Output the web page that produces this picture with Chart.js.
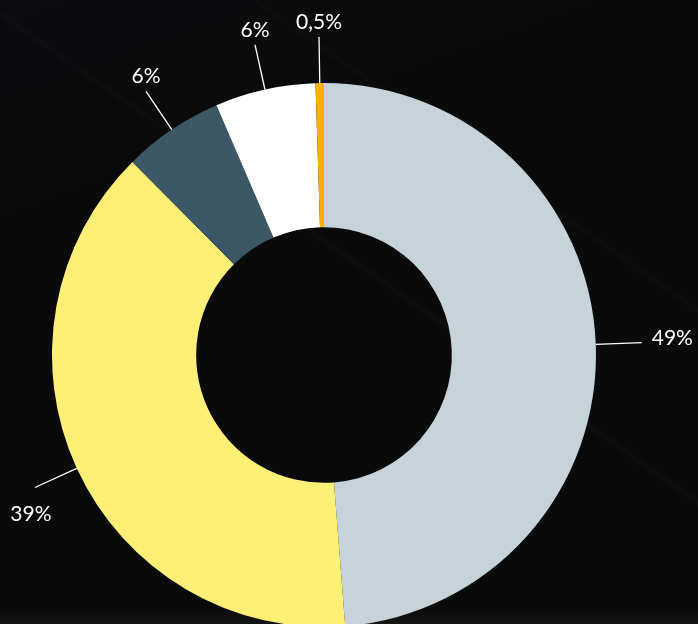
<!DOCTYPE html>
<html lang="en">

<head>
    <meta charset="utf-8">
    <title>Doughnut</title>
    <script src="https://cdn.jsdelivr.net/npm/chart.js"></script>
    <style>
        html,
        body {
            margin: 0;
            padding: 0;
            width: 698px;
            height: 624px;
            overflow: hidden;
            background: #0a0a0a;
        }
        
        #wrap {
            position: absolute;
            left: 0;
            top: 0;
            width: 698px;
            height: 640px;
            background:
                linear-gradient(160deg, rgba(16, 18, 30, 0.25) 0%, rgba(0, 0, 0, 0) 25%),
                linear-gradient(35deg, rgba(0, 0, 0, 0) 55%, rgba(30, 30, 30, 0.22) 55.5%, rgba(0, 0, 0, 0) 56%),
                linear-gradient(35deg, rgba(0, 0, 0, 0) 72%, rgba(30, 30, 30, 0.18) 72.5%, rgba(0, 0, 0, 0) 73%),
                linear-gradient(0deg, rgba(80, 78, 76, 0.3) 0%, rgba(0, 0, 0, 0) 5%),
                #0a0a0a;
        }
    </style>
</head>

<body>
    <div id="wrap">
        <canvas id="donutChart" width="698" height="640"></canvas>
    </div>
    <script>
        // slices, clockwise from 12 o'clock
        const categories = ['Segment 1', 'Segment 2', 'Segment 3', 'Segment 4', 'Segment 5'];
        const shares = [49, 39, 6, 6, 0.5];
        const labelTexts = ['49%', '39%', '6%', '6%', '0,5%'];
        const sliceColors = ['#c6d3db', '#fef077', '#3c5867', '#ffffff', '#f5b200'];

        const leaderLabels = {
            id: 'leaderLabels',
            afterDatasetsDraw(chart) {
                const ctx = chart.ctx;
                const arcs = chart.getDatasetMeta(0).data;
                ctx.save();
                ctx.strokeStyle = '#ffffff';
                ctx.fillStyle = '#ffffff';
                ctx.lineWidth = 1.3;
                ctx.font = '400 21px Lato, "Open Sans", sans-serif';
                arcs.forEach((arc, i) => {
                    const mid = (arc.startAngle + arc.endAngle) / 2;
                    const outer = arc.outerRadius;
                    const c = Math.cos(mid);
                    const s = Math.sin(mid);
                    const x0 = arc.x + outer * c;
                    const y0 = arc.y + outer * s;
                    const x1 = arc.x + (outer + 46) * c;
                    const y1 = arc.y + (outer + 46) * s;
                    ctx.beginPath();
                    ctx.moveTo(x0, y0);
                    ctx.lineTo(x1, y1);
                    ctx.stroke();
                    if (Math.abs(c) > 0.95) {
                        ctx.textAlign = c > 0 ? 'left' : 'right';
                        ctx.textBaseline = 'middle';
                        ctx.fillText(labelTexts[i], x1 + (c > 0 ? 10 : -10), y1 - 4);
                    } else if (s < 0) {
                        ctx.textAlign = 'center';
                        ctx.textBaseline = 'alphabetic';
                        ctx.fillText(labelTexts[i], x1, y1 - 8);
                    } else {
                        ctx.textAlign = 'center';
                        ctx.textBaseline = 'top';
                        ctx.fillText(labelTexts[i], x1 - 4, y1 + 16);
                    }
                });
                ctx.restore();
            }
        };

        new Chart(document.getElementById('donutChart'), {
            type: 'doughnut',
            data: {
                labels: categories,
                datasets: [{
                    data: shares,
                    backgroundColor: sliceColors,
                    borderWidth: 0
                }]
            },
            options: {
                responsive: false,
                animation: false,
                cutout: '47%',
                layout: {
                    padding: {
                        left: 52,
                        top: 83,
                        right: 102,
                        bottom: 13
                    }
                },
                plugins: {
                    legend: {
                        display: false
                    },
                    tooltip: {
                        enabled: false
                    }
                }
            },
            plugins: [leaderLabels]
        });
    </script>
</body>

</html>
